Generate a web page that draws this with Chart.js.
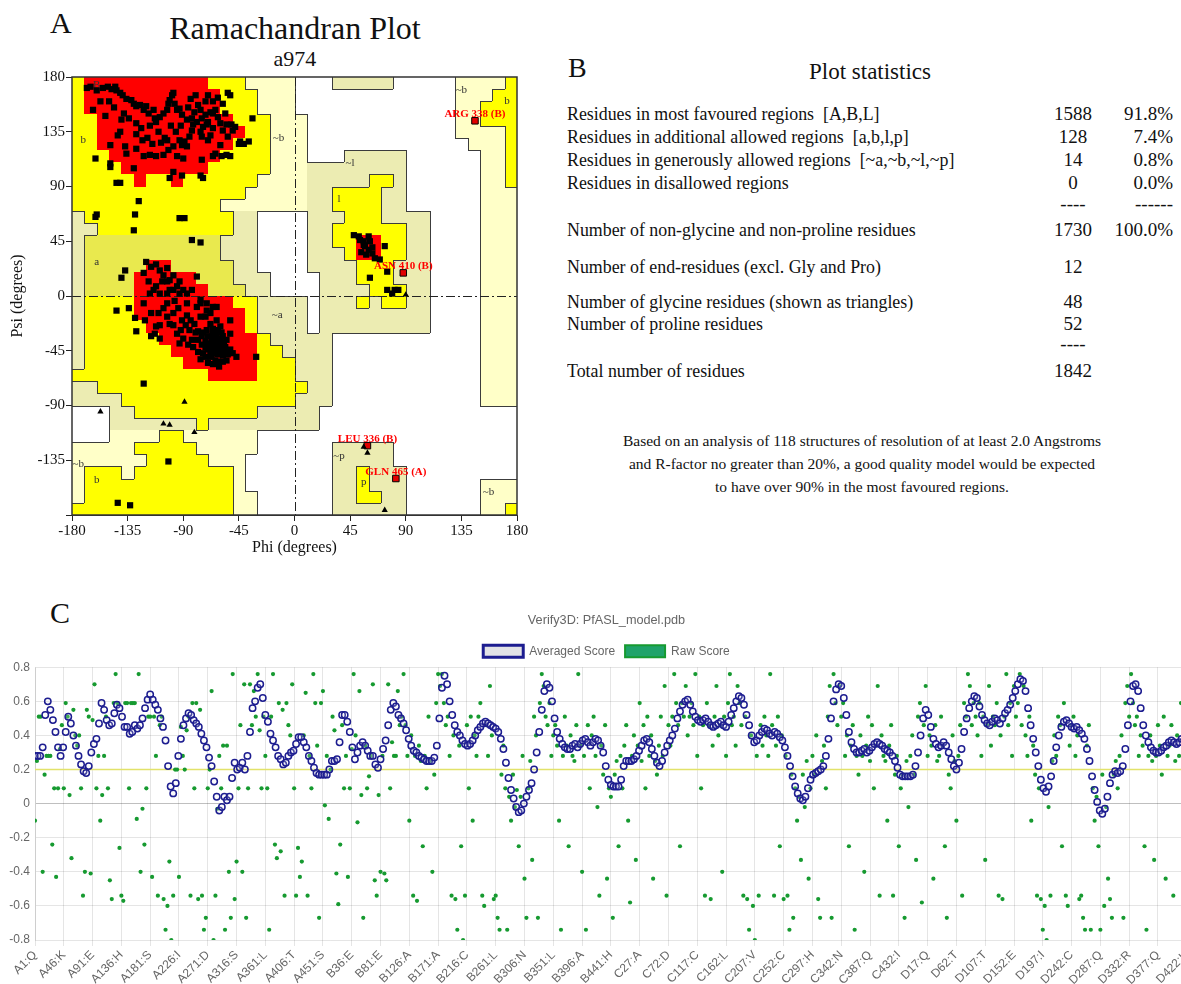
<!DOCTYPE html>
<html>
<head>
<meta charset="utf-8">
<title>Ramachandran plot, statistics and Verify3D</title>
<script src="https://cdn.jsdelivr.net/npm/chart.js@4.4.1/dist/chart.umd.min.js"></script>
<style>
  html, body { margin: 0; padding: 0; background: #fff; }
  body { width: 1181px; height: 984px; overflow: hidden; position: relative; }
  .t { position: absolute; font-family: 'Liberation Serif', 'Times New Roman', serif; color: #111; white-space: nowrap; }
  .row { position: absolute; left: 567px; font-family: 'Liberation Serif', serif; font-size: 19px; line-height: 20px; color: #111; white-space: nowrap; transform: scaleX(0.94); transform-origin: left center; }
  .num { position: absolute; left: 1033px; width: 80px; text-align: center; font-family: 'Liberation Serif', serif; font-size: 19px; line-height: 20px; color: #111; }
  .pct { position: absolute; left: 1073px; width: 100px; text-align: right; font-family: 'Liberation Serif', serif; font-size: 19px; line-height: 20px; color: #111; }
  canvas { position: absolute; }
</style>
</head>
<body>

<!-- panel letters and titles -->
<div class="t" style="left:50px;top:6px;font-size:30px;line-height:34px">A</div>
<div class="t" style="left:95px;width:400px;text-align:center;top:10px;font-size:32px;line-height:36px">Ramachandran Plot</div>
<div class="t" style="left:195px;width:200px;text-align:center;top:46px;font-size:22px;line-height:26px">a974</div>
<div class="t" style="left:568px;top:52px;font-size:28px;line-height:32px">B</div>
<div class="t" style="left:50px;top:596px;font-size:30px;line-height:34px">C</div>

<!-- panel B: plot statistics -->
<div class="t" style="left:745px;width:250px;text-align:center;top:58px;font-size:23px;line-height:28px">Plot statistics</div>

<div class="row" style="top:104px">Residues in most favoured regions&nbsp; [A,B,L]</div>
<div class="num" style="top:104px">1588</div><div class="pct" style="top:104px">91.8%</div>
<div class="row" style="top:127px">Residues in additional allowed regions&nbsp; [a,b,l,p]</div>
<div class="num" style="top:127px">128</div><div class="pct" style="top:127px">7.4%</div>
<div class="row" style="top:150px">Residues in generously allowed regions&nbsp; [~a,~b,~l,~p]</div>
<div class="num" style="top:150px">14</div><div class="pct" style="top:150px">0.8%</div>
<div class="row" style="top:173px">Residues in disallowed regions</div>
<div class="num" style="top:173px">0</div><div class="pct" style="top:173px">0.0%</div>
<div class="num" style="top:194px">----</div><div class="pct" style="top:194px">------</div>
<div class="row" style="top:220px">Number of non-glycine and non-proline residues</div>
<div class="num" style="top:220px">1730</div><div class="pct" style="top:220px">100.0%</div>
<div class="row" style="top:257px">Number of end-residues (excl. Gly and Pro)</div>
<div class="num" style="top:257px">12</div>
<div class="row" style="top:292px">Number of glycine residues (shown as triangles)</div>
<div class="num" style="top:292px">48</div>
<div class="row" style="top:314px">Number of proline residues</div>
<div class="num" style="top:314px">52</div>
<div class="num" style="top:334px">----</div>
<div class="row" style="top:361px">Total number of residues</div>
<div class="num" style="top:361px">1842</div>

<div class="t" style="left:562px;width:600px;text-align:center;top:429px;font-size:15.5px;line-height:23px">Based on an analysis of 118 structures of resolution of at least 2.0 Angstroms<br>and R-factor no greater than 20%, a good quality model would be expected<br>to have over 90% in the most favoured regions.</div>

<canvas id="rama" width="540" height="560" style="left:0;top:0"></canvas>
<canvas id="verify" width="1225" height="384" style="left:0;top:600px"></canvas>

<script>
// ================= Panel A data (phi, psi in degrees) =================
// 10-degree region map, top row = psi 170..180, left column = phi -180..-170
// R core, Y/y allowed, G/g generously allowed, W disallowed
const regionRows = [
  'YRRRRRRRR RRYYYgggg WWWGGGGGW WWWWggggY',
  'YRRRRRRRR RRRYYYggg WWWWWWWWW WWWWgggYY',
  'YRRRRRRRR RRRYYYggg WWWWWWWWW WWWWggYYY',
  'YYRRRRRRR RRRRYYYgg gWWWWWWWW WWWWggYYY',
  'YYRRRRRRR RRRRRYYgg gWWWWWWWW WWWWggggY',
  'YYRRRRRRR RRRRYYYgg gWWWWWWWW WWWWWgggY',
  'YYYRRRRRR RRRYYYYgg gWWWGGGGG WWWWWWggY',
  'YYYYRRRRR RRYYYYYgg gGGGGGGGG WWWWWWggY',
  'YYYYYRYYR YYYYYYggg gGGGGGYYG WWWWWWggY',
  'YYYYYYYYY YYYYYgggg gGGYYYYGG WWWWWWggg',
  'YYYYYYYYY YYYgggggg gGGYYYYGG WWWWWWggg',
  'GYYYYYYYY YYYYGGWWW WGGGYYYGG GGWWWWggg',
  'GGYYYYYYY YYYYGGWWW WGGYYYYYY GGWWWWggg',
  'Gyyyyyyyy yyyGGGWWW WGGYYRRYY GGWWWWggg',
  'Gyyyyyyyy yyyGGGWWW WGGGYRRYY GGWWWWggg',
  'GyyyyyRRy yyyyGGWWW WGGGGYYYG GGWWWWggg',
  'GyyyyRRRR RyyyGGGWW WWGGGYYYG GGWWWWggg',
  'GyyyyRRRR RRyyyGGWW WWGGGGYYY GGWWWWggg',
  'GYYYYRRRR RRRRYYGGG GWGGGYGYY GGWWWWggg',
  'GYYYYRRRR RRRRRYGGG GWGGGGGGG GGWWWWggg',
  'GYYYYYRRR RRRRRYGGG GWGGGGGGG GGWWWWggg',
  'GYYYYYYRR RRRRRRYGG GGGWWWWWW WWWWWWggg',
  'GYYYYYYYR RRRRRRYYG GGGWWWWWW WWWWWWggg',
  'GYYYYYYYY RRRRRRYYY GGGWWWWWW WWWWWWggg',
  'YYYYYYYYY YYRRRRYYY GGGWWWWWW WWWWWWggg',
  'GGYYYYYYY YYYYYYYYY YGGWWWWWW WWWWWWggg',
  'GGGGYYYYY YYYYYYYYY GGGWWWWWW WWWWWWggg',
  'WWWGGYYYY YYYYYYGGG GGWWWWWWW WWWWWWWWW',
  'WWWGGGGGG GYGGGGGGG GGWWWWWWW WWWWWWWWW',
  'WWWggggYY ggggggWWW WWWWWWWWW WWWWWWWWW',
  'gggggYYYY YgggggWWW WWWGGGGGW WWWWWWWWW',
  'ggggggYYY YYgggWWWW WWWGGGGGW WWWWWWWWW',
  'gYYYgYYYY YYYYgWWWW WWWGGYGGG WWWWWWWWW',
  'gYYYYYYYY YYYYgWWWW WWWGGYGGG WWWWWWggg',
  'gYYYYYYYY YYYYggWWW WWWGGYYGG WWWWWWggg',
  'YYYYYYYYY YYYYggWWW WWWGGGGGG WWWWWWggY'
];
const regionColors = { R: '#ff0000', Y: '#ffff00', y: '#e9e94e', G: '#ececb2', g: '#ffffc8', W: '#ffffff' };

const regionLabels = [
  ['B', -160, 173], ['b', -171, 128], ['~b', -13, 130], ['a', -160, 28], ['~a', -14, -16],
  ['~b', -175, -138], ['b', -160, -151], ['~l', 45, 109], ['l', 36, 80], ['~b', 135, 169],
  ['b', 172, 160], ['~p', 36, -132], ['p', 56, -153], ['~b', 157, -161]
];

// non-glycine, non-proline residues (squares)
const residuePhiPsi = [
  [-168,171],[-165,172],[-160,169],[-155,171],[-151,172],[-148,170],[-145,172],[-144,169],[-141,167],[-139,165],
  [-136,162],[-132,161],[-130,158],[-128,156],[-125,157],[-122,153],[-120,156],[-118,150],[-114,153],[-113,146],
  [-112,143],[-109,147],[-106,150],[-103,153],[-102,158],[-101,161],[-99,165],[-98,167],[-97,158],[-95,153],
  [-93,154],[-91,149],[-87,145],[-83,146],[-81,151],[-78,157],[-76,153],[-75,146],[-72,149],[-70,143],
  [-68,151],[-66,150],[-64,153],[-62,147],[-60,142],[-58,136],[-55,141],[-51,141],[-50,136],[-48,139],
  [-45,125],[-44,127],[-41,125],[-37,127],[-34,146],[-54,167],[-52,165],[-163,153],[-143,132],[-141,135],
  [-149,124],[-137,123],[-128,121],[-136,117],[-122,115],[-117,116],[-112,115],[-106,116],[-102,120],[-98,123],
  [-95,115],[-93,128],[-91,124],[-89,127],[-87,123],[-85,131],[-83,136],[-82,141],[-79,143],[-76,135],
  [-75,131],[-74,139],[-71,141],[-70,128],[-68,132],[-66,138],[-64,117],[-60,124],[-59,115],[-55,116],
  [-52,115],[-54,131],[-66,115],[-90,113],[-75,112],[-98,102],[-101,97],[-91,99],[-76,99],[-74,97],
  [-130,105],[-149,109],[-149,106],[-161,113],[-144,93],[-141,93],[-126,78],[-129,67],[-130,54],[-93,64],
  [-89,64],[-83,46],[-76,44],[-161,65],[-160,67],
  [-150,160],[-146,155],[-138,150],[-134,146],[-128,142],[-124,138],[-117,140],[-110,135],[-105,130],[-100,140],
  [-96,135],[-92,140],[-86,155],[-84,162],[-80,165],[-72,160],[-70,165],[-66,160],[-62,163],[-58,158],
  [-56,150],[-119,130],[-115,125],[-108,126],[-103,128],[-128,133],[-123,128],[-140,145],[-157,160],[-153,148],
  [-137,21],[-140,15],[-144,-12],[-134,-10],[-120,28],[-116,24],[-112,26],[-109,21],[-106,17],[-103,23],
  [-101,13],[-98,17],[-95,8],[-93,12],[-90,5],[-87,2],[-112,8],[-109,2],[-103,2],[-101,5],
  [-117,2],[-114,5],[-79,16],[-76,-3],[-71,-6],[-66,-9],[-103,12],[-98,5],[-93,2],[-83,5],
  [-122,19],[-118,12],[-107,12],[-129,-18],[-128,-29],[-122,-6],[-116,-14],[-113,-31],[-112,-25],[-109,-35],
  [-103,-17],[-101,-23],[-98,-14],[-95,-31],[-93,-39],[-91,-20],[-87,-16],[-85,-28],[-82,-42],[-81,-23],
  [-79,-9],[-76,-17],[-75,-33],[-74,-47],[-71,-12],[-71,-28],[-70,-39],[-68,-23],[-66,-31],[-66,-44],
  [-64,-53],[-63,-36],[-60,-25],[-60,-47],[-59,-42],[-58,-33],[-55,-53],[-52,-44],[-50,-47],[-47,-50],
  [-103,-6],[-87,-6],[-76,-6],[-63,-9],[-52,-20],[-31,-50],[-122,-72],[-109,-24],[-78,-46],[-70,-55],
  [-62,-54],[-72,-17],[-68,-14],[-63,-20],[-83,-36],[-78,-29],[-55,-36],[-52,-31],[-60,-39],[-67,-49],
  [-58,-49],[-90,-35],[-98,-24],[-116,-33],[-121,-20],[-64,-38],[-62,-42],[-67,-36],[-61,-45],[-69,-42],
  [-65,-47],[-63,-33],[-57,-40],[-70,-33],[-66,-27],[-72,-37],[-59,-30],[-56,-45],[-62,-28],[-75,-40],
  [-68,-50],[-66,-40],[-64,-42],[-62,-36],[-60,-44],[-58,-38],[-68,-46],[-70,-44],[-66,-34],[-62,-48],
  [-72,-42],[-64,-30],[-60,-35],[-56,-42],[-54,-48],[-74,-30],[-78,-36],[-80,-30],[-84,-20],[-88,-24],
  [-94,-10],[-97,-4],[-106,-10],[-110,-14],[-76,-52],[-72,-50],[-66,-56],[-61,-58],[-58,-54],[-86,-40],
  [-92,-28],[-143,-170],[-133,-172],[-102,-136],
  [48,50],[52,49],[56,45],[60,49],[61,45],[57,41],[54,36],[58,34],[63,35],[65,31],
  [69,30],[73,41],[61,15],[75,5],[79,2],[81,5],[84,5],[56,42],[60,38],[63,40],[53,46],[75,20]
];
// glycine residues (triangles)
const glycinePhiPsi = [[-157,-95],[-89,-87],[-106,-105],[-101,-106],[-81,-112],[56,-124],[59,-129],[73,-176],[90,1]];
// residues outside the favoured regions, labelled in red
const flaggedPhi = [146, 88, 59, 82];
const flaggedPsi = [144, 19, -123, -150];
const flaggedNames = ['ARG 338 (B)', 'ASN 410 (B)', 'LEU 336 (B)', 'GLN 465 (A)'];

// ================= Panel C data (Verify3D) =================
const tickLabels = ['A1:Q','A46:K','A91:E','A136:H','A181:S','A226:I','A271:D','A316:S','A361:L','A406:T',
  'A451:S','B36:E','B81:E','B126:A','B171:A','B216:C','B261:L','B306:N','B351:L','B396:A',
  'B441:H','C27:A','C72:D','C117:C','C162:L','C207:V','C252:C','C297:H','C342:N','C387:Q',
  'C432:I','D17:Q','D62:T','D107:T','D152:E','D197:I','D242:C','D287:Q','D332:R','D377:Q','D422:K'];
const residueCount = 1842;
const labelStep = 45;
const avgStep = 4;   // averaged score read every 4th residue
const rawStep = 3;   // raw score read every 3rd residue
const passScore = 0.2;

const averagedScore = [
  0.28,0.28,0.28,0.33,0.52,0.60,0.55,0.49,0.42,0.33,
  0.28,0.33,0.42,0.51,0.47,0.40,0.34,0.28,0.23,0.19,
  0.18,0.22,0.30,0.35,0.38,0.47,0.59,0.55,0.49,0.46,
  0.47,0.53,0.58,0.56,0.51,0.45,0.45,0.41,0.42,0.46,
  0.44,0.46,0.50,0.56,0.61,0.64,0.61,0.58,0.55,0.50,
  0.45,0.37,0.22,0.10,0.06,0.12,0.28,0.38,0.46,0.50,
  0.53,0.52,0.49,0.47,0.45,0.41,0.37,0.33,0.27,0.22,
  0.13,0.04,-0.04,-0.02,0.04,0.02,0.04,0.15,0.24,0.20,
  0.21,0.24,0.20,0.28,0.42,0.56,0.60,0.68,0.70,0.62,
  0.52,0.48,0.41,0.37,0.33,0.28,0.26,0.23,0.24,0.28,
  0.30,0.31,0.35,0.39,0.39,0.36,0.33,0.28,0.25,0.21,
  0.18,0.17,0.17,0.17,0.17,0.20,0.25,0.25,0.26,0.36,
  0.52,0.52,0.48,0.42,0.33,0.26,0.30,0.34,0.36,0.34,
  0.31,0.28,0.28,0.23,0.21,0.26,0.32,0.37,0.46,0.55,
  0.59,0.57,0.52,0.50,0.47,0.43,0.38,0.34,0.31,0.30,
  0.28,0.27,0.26,0.25,0.25,0.25,0.27,0.34,0.50,0.68,
  0.75,0.70,0.60,0.52,0.46,0.42,0.40,0.37,0.35,0.34,
  0.35,0.37,0.40,0.43,0.45,0.47,0.48,0.47,0.46,0.45,
  0.44,0.42,0.38,0.32,0.24,0.15,0.08,0.03,-0.02,-0.05,
  -0.04,0.00,0.04,0.08,0.12,0.20,0.30,0.42,0.55,0.66,
  0.70,0.68,0.60,0.50,0.42,0.38,0.35,0.33,0.32,0.32,
  0.34,0.35,0.33,0.35,0.37,0.38,0.36,0.34,0.36,0.38,
  0.37,0.34,0.30,0.22,0.14,0.11,0.10,0.10,0.10,0.14,
  0.22,0.25,0.25,0.25,0.26,0.28,0.31,0.34,0.37,0.38,
  0.36,0.32,0.28,0.24,0.22,0.25,0.30,0.34,0.37,0.40,
  0.44,0.50,0.54,0.58,0.60,0.61,0.58,0.54,0.51,0.49,
  0.48,0.49,0.50,0.48,0.46,0.45,0.46,0.47,0.48,0.46,
  0.45,0.48,0.52,0.56,0.60,0.63,0.62,0.58,0.52,0.46,
  0.40,0.36,0.37,0.40,0.42,0.44,0.43,0.41,0.40,0.42,
  0.41,0.39,0.37,0.33,0.28,0.22,0.16,0.10,0.06,0.03,
  0.02,0.04,0.09,0.14,0.17,0.18,0.19,0.20,0.22,0.28,
  0.38,0.50,0.60,0.67,0.70,0.69,0.62,0.52,0.42,0.36,
  0.32,0.30,0.30,0.31,0.32,0.30,0.31,0.33,0.35,0.36,
  0.35,0.34,0.32,0.31,0.30,0.28,0.25,0.21,0.17,0.16,
  0.16,0.16,0.16,0.17,0.22,0.30,0.40,0.50,0.55,0.52,
  0.45,0.38,0.35,0.33,0.34,0.36,0.34,0.30,0.26,0.22,
  0.20,0.24,0.32,0.42,0.50,0.56,0.60,0.63,0.62,0.57,
  0.52,0.49,0.47,0.46,0.48,0.50,0.49,0.47,0.50,0.53,
  0.55,0.58,0.62,0.66,0.70,0.73,0.72,0.66,0.56,0.46,
  0.38,0.30,0.22,0.14,0.09,0.07,0.10,0.16,0.25,0.33,
  0.40,0.45,0.48,0.49,0.47,0.45,0.44,0.45,0.43,0.41,
  0.38,0.32,0.25,0.16,0.08,0.01,-0.04,-0.06,-0.03,0.04,
  0.12,0.17,0.19,0.18,0.19,0.22,0.32,0.46,0.60,0.69,
  0.70,0.66,0.56,0.46,0.40,0.36,0.33,0.31,0.30,0.30,
  0.31,0.33,0.34,0.36,0.37,0.36,0.35,0.36,0.38,0.37,
  0.35,0.33,0.34,0.36,0.35,0.33,0.32,0.34,0.35,0.33,
  0.32
];

const rawScore = [
  -0.10,0.25,0.51,0.51,-0.40,0.17,0.28,0.28,0.28,-0.24,
  0.09,-0.43,0.09,0.32,0.46,0.09,0.59,0.51,0.05,-0.32,
  0.55,0.40,0.34,0.40,0.09,-0.54,-0.40,0.55,0.51,-0.41,
  0.49,0.70,0.09,0.28,-0.10,0.05,0.28,0.51,0.09,-0.45,
  -0.56,0.59,0.76,0.59,-0.26,-0.54,-0.57,0.59,0.59,0.09,
  0.59,0.59,0.59,-0.09,0.76,-0.40,-0.03,-0.24,0.09,0.51,
  0.51,-0.43,0.51,0.28,-0.54,0.46,0.51,-0.56,-0.74,-0.60,
  -0.34,-0.80,-0.54,0.20,0.20,-0.43,0.45,0.28,0.20,0.43,
  0.51,-0.54,0.59,0.09,0.59,-0.56,0.55,-0.54,-0.74,-0.67,
  0.09,0.20,0.66,-0.80,-0.54,-0.03,0.28,0.09,0.34,-0.74,
  0.34,-0.40,-0.67,0.76,-0.56,-0.34,0.09,0.46,-0.40,0.70,
  -0.67,0.09,0.70,0.46,0.66,0.51,0.76,0.43,0.09,0.51,
  0.28,0.09,-0.74,0.51,0.76,-0.24,-0.32,0.59,-0.28,0.55,
  -0.54,0.59,0.46,0.40,0.70,0.09,-0.54,-0.26,-0.43,-0.34,
  0.40,0.65,-0.54,0.28,0.09,0.76,0.59,0.34,-0.67,0.59,
  0.66,-0.01,0.28,-0.09,0.20,0.51,0.43,-0.41,-0.59,-0.24,
  0.46,0.09,0.28,-0.43,0.09,0.32,0.76,0.40,-0.11,0.66,
  0.05,-0.67,0.34,0.09,0.16,0.28,0.70,-0.45,-0.54,0.05,
  -0.40,0.28,-0.41,-0.45,0.70,0.09,0.36,0.28,0.28,0.66,
  0.46,
  0.51,0.76,0.46,0.28,-0.10,0.40,-0.54,0.28,-0.57,0.34,
  0.25,-0.25,0.28,0.09,0.51,0.25,-0.40,0.17,0.59,0.76,
  0.69,0.76,0.59,0.46,0.51,0.28,-0.54,0.40,-0.56,-0.74,
  0.34,-0.25,-0.80,-0.54,0.46,0.09,0.51,-0.10,0.40,0.28,
  0.51,0.59,-0.54,-0.60,0.46,0.28,0.69,0.40,-0.56,-0.54,
  -0.67,-0.74,0.17,0.34,0.09,-0.74,0.04,-0.10,0.17,-0.02,
  0.08,-0.25,0.04,0.28,-0.44,-0.67,0.09,0.25,-0.33,0.51,
  0.40,-0.67,0.59,0.76,0.69,0.51,0.46,0.59,0.28,0.40,
  0.46,0.34,-0.10,-0.74,0.28,0.51,0.34,-0.25,0.40,0.28,
  0.25,0.46,0.76,0.34,-0.40,0.28,-0.74,0.46,0.09,0.40,
  0.51,0.28,-0.02,-0.54,0.34,0.17,0.46,-0.44,0.09,0.04,
  -0.67,0.17,0.25,-0.25,0.28,0.09,0.34,0.46,-0.10,-0.58,
  0.28,0.40,-0.33,0.34,0.59,0.25,0.46,0.09,0.51,0.28,
  0.40,-0.44,0.25,0.17,0.34,0.51,0.28,0.69,-0.54,0.46,
  0.34,0.51,0.76,0.59,0.46,-0.25,0.59,0.51,0.69,0.40,
  0.51,0.59,0.46,0.76,0.28,0.51,0.09,0.46,-0.54,0.59,
  0.46,-0.56,0.34,0.51,0.69,0.40,0.46,-0.40,0.51,0.28,
  0.59,0.76,0.46,0.51,0.34,0.69,0.59,0.46,-0.54,0.51,
  -0.56,-0.74,0.40,-0.60,-0.80,0.28,-0.54,0.46,0.34,0.51,
  0.40,0.28,0.76,0.46,-0.54,0.34,0.51,-0.25,0.40,-0.56,
  0.28,-0.54,-0.74,0.17,-0.67,0.09,-0.10,0.04,-0.33,0.17,
  -0.02,0.25,-0.44,0.09,0.28,0.17,0.40,-0.56,-0.67,0.25,
  0.34,0.09,0.51,0.69,-0.67,0.76,0.59,0.46,0.69,0.51,
  0.59,0.28,0.40,-0.25,0.34,0.46,-0.74,0.28,0.17,0.40,
  0.28,-0.40,0.34,0.51,0.25,0.46,0.09,0.34,0.69,-0.54,
  0.40,0.28,0.25,-0.10,0.34,0.46,-0.54,0.17,0.28,-0.25,
  0.09,0.17,-0.67,0.25,-0.02,0.28,0.40,0.17,-0.33,0.51,
  0.59,-0.58,0.46,0.69,0.28,0.40,0.34,-0.44,0.46,0.25,
  0.28,0.51,0.34,-0.25,-0.67,0.17,0.09,0.40,0.25,-0.10,
  0.28,0.46,-0.54,0.59,0.51,0.76,0.69,0.46,0.59,0.51,
  0.40,0.59,0.28,0.51,-0.33,0.46,0.69,0.34,0.51,0.46,
  0.59,-0.54,0.40,-0.56,0.51,0.76,0.46,0.59,0.28,0.69,
  0.51,0.59,0.76,0.46,0.69,0.40,0.28,0.51,-0.10,0.34,
  0.17,-0.54,0.09,-0.56,-0.74,-0.60,-0.80,-0.02,-0.54,0.25,
  0.40,0.28,0.51,0.46,-0.25,0.59,-0.54,-0.60,0.34,0.46,
  0.51,0.28,0.40,-0.56,-0.54,-0.67,-0.74,0.34,0.46,-0.74,
  0.09,-0.10,0.04,-0.25,-0.74,0.17,-0.60,-0.02,-0.44,-0.56,
  -0.67,0.17,0.25,0.09,0.28,0.40,-0.67,0.59,0.69,0.51,
  0.76,0.59,0.46,0.51,0.28,0.40,0.34,-0.25,-0.74,0.28,
  0.40,0.25,-0.33,0.28,0.46,0.34,0.17,0.51,-0.44,0.28,
  0.34,0.46,-0.54,0.25,0.40,0.28,0.59,0.34,-0.10,0.46,
  0.28,0.40,0.34,0.51,0.25,0.46,0.34,0.28,0.40,0.17,0.46,0.34,0.28
];

// ================= Panel A chart =================
const serif = "'Liberation Serif', 'Times New Roman', serif";
Chart.defaults.font.family = "'Liberation Sans', 'Helvetica Neue', Arial, sans-serif";

const ramaRegions = {
  id: 'ramaRegions',
  beforeDatasetsDraw(chart) {
    const { ctx, chartArea: area, scales: { x, y } } = chart;
    const rows = regionRows.map(r => r.replace(/ /g, ''));
    const px = c => Math.round(x.getPixelForValue(-180 + 10 * c));
    const py = r => Math.round(y.getPixelForValue(180 - 10 * r));
    ctx.save();
    rows.forEach((row, r) => {
      for (let c = 0; c < 36; c++) {
        ctx.fillStyle = regionColors[row[c]] || '#fff';
        ctx.fillRect(px(c), py(r), px(c + 1) - px(c), py(r + 1) - py(r));
      }
    });
    // region borders (not drawn around the core regions)
    const cls = ch => ({ R: 'R', Y: 'Y', y: 'Y', G: 'G', g: 'G' }[ch] || 'W');
    const edge = (a, b) => { const p = cls(a), q = cls(b); return p !== q && p !== 'R' && q !== 'R'; };
    ctx.strokeStyle = '#3c3c3c';
    ctx.lineWidth = 1;
    ctx.beginPath();
    for (let r = 0; r < 36; r++) {
      for (let c = 0; c < 36; c++) {
        if (c < 35 && edge(rows[r][c], rows[r][c + 1])) {
          const xx = px(c + 1) + 0.5;
          ctx.moveTo(xx, py(r)); ctx.lineTo(xx, py(r + 1));
        }
        if (r < 35 && edge(rows[r][c], rows[r + 1][c])) {
          const yy = py(r + 1) + 0.5;
          ctx.moveTo(px(c), yy); ctx.lineTo(px(c + 1), yy);
        }
      }
    }
    ctx.stroke();
    // dash-dot axes at phi = 0 and psi = 0
    ctx.setLineDash([9, 3, 2, 3]);
    ctx.strokeStyle = '#222';
    ctx.beginPath();
    const x0 = Math.round(x.getPixelForValue(0)) + 0.5;
    const y0 = Math.round(y.getPixelForValue(0)) + 0.5;
    ctx.moveTo(x0, area.top); ctx.lineTo(x0, area.bottom);
    ctx.moveTo(area.left, y0); ctx.lineTo(area.right, y0);
    ctx.stroke();
    ctx.setLineDash([]);
    // region names
    ctx.fillStyle = '#333';
    ctx.font = '11px ' + serif;
    ctx.textAlign = 'center';
    ctx.textBaseline = 'middle';
    regionLabels.forEach(([t, phi, psi]) => ctx.fillText(t, x.getPixelForValue(phi), y.getPixelForValue(psi)));
    // frame
    ctx.strokeStyle = '#333';
    ctx.lineWidth = 1.5;
    ctx.strokeRect(area.left, area.top, area.right - area.left, area.bottom - area.top);
    ctx.restore();
  },
  afterDatasetsDraw(chart) {
    const { ctx, scales: { x, y } } = chart;
    ctx.save();
    ctx.fillStyle = '#ff0000';
    ctx.font = 'bold 11px ' + serif;
    ctx.textAlign = 'center';
    ctx.textBaseline = 'alphabetic';
    flaggedNames.forEach((name, i) => {
      ctx.fillText(name, x.getPixelForValue(flaggedPhi[i]), y.getPixelForValue(flaggedPsi[i]) - 4);
    });
    ctx.restore();
  }
};

const angleTicks = {
  stepSize: 45, color: '#111', padding: 1, autoSkip: false, maxRotation: 0,
  font: { family: serif, size: 15 }
};

new Chart(document.getElementById('rama'), {
  type: 'scatter',
  data: {
    datasets: [
      { label: 'Residues', data: residuePhiPsi.map(([phi, psi]) => ({ x: phi, y: psi })),
        pointStyle: 'rect', pointRadius: 4.4, backgroundColor: '#000', borderWidth: 0 },
      { label: 'Glycine', data: glycinePhiPsi.map(([phi, psi]) => ({ x: phi, y: psi })),
        pointStyle: 'triangle', pointRadius: 3.6, backgroundColor: '#000', borderColor: '#000', borderWidth: 0 },
      { label: 'Flagged', data: flaggedPhi.map((phi, i) => ({ x: phi, y: flaggedPsi[i] })),
        pointStyle: 'rect', pointRadius: 4.6, backgroundColor: '#e00000', borderColor: '#000', borderWidth: 1 }
    ]
  },
  options: {
    responsive: false,
    animation: false,
    events: [],
    layout: { padding: { left: 0, right: 23, top: 77, bottom: 0 } },
    plugins: { legend: { display: false }, tooltip: { enabled: false } },
    scales: {
      x: {
        type: 'linear', min: -180, max: 180,
        ticks: angleTicks,
        grid: { drawOnChartArea: false, color: '#222', tickLength: 6 },
        border: { color: '#333', width: 1 },
        title: { display: true, text: 'Phi (degrees)', color: '#111', font: { family: serif, size: 16 }, padding: { top: 0, bottom: 3 } },
        afterFit: s => { s.height = 45; }
      },
      y: {
        type: 'linear', min: -180, max: 180,
        ticks: Object.assign({}, angleTicks, { callback: v => (v === -180 ? '' : v) }),
        grid: { drawOnChartArea: false, color: '#222', tickLength: 6 },
        border: { color: '#333', width: 1 },
        title: { display: true, text: 'Psi (degrees)', color: '#111', font: { family: serif, size: 16 }, padding: { top: 8, bottom: 0 } },
        afterFit: s => { s.width = 72; }
      }
    }
  },
  plugins: [ramaRegions]
});

// ================= Panel C chart =================
new Chart(document.getElementById('verify'), {
  type: 'scatter',
  data: {
    datasets: [
      { label: 'Averaged Score', data: averagedScore.map((v, j) => ({ x: j * avgStep, y: v })),
        pointRadius: 3.2, pointBorderWidth: 1.5, borderColor: '#1d1d90', backgroundColor: 'rgba(235,235,240,0.2)' },
      { label: 'Raw Score', data: rawScore.map((v, j) => ({ x: j * rawStep, y: v })),
        pointRadius: 2.1, pointBorderWidth: 0, borderColor: '#169a30', backgroundColor: '#169a30' },
      { label: 'pass', data: [{ x: 0, y: passScore }, { x: residueCount - 1, y: passScore }],
        showLine: true, pointRadius: 0, borderColor: '#e2e26a', borderWidth: 1.5 }
    ]
  },
  options: {
    responsive: false,
    animation: false,
    events: [],
    layout: { padding: { left: 0, right: 12, top: 0, bottom: 0 } },
    plugins: {
      tooltip: { enabled: false },
      title: { display: true, text: 'Verify3D: PfASL_model.pdb', color: '#666',
               font: { size: 12.7, weight: 'normal' }, padding: { top: 12.5, bottom: 7.5 } },
      legend: {
        labels: {
          boxWidth: 40, boxHeight: 12, color: '#666', font: { size: 12 },
          filter: item => item.text !== 'pass',
          generateLabels: chart => Chart.defaults.plugins.legend.labels.generateLabels(chart).map(item => {
            if (item.text === 'Averaged Score') { item.fillStyle = '#e2e2e6'; item.strokeStyle = '#1d1d90'; item.lineWidth = 3; }
            if (item.text === 'Raw Score') { item.fillStyle = '#1fa36a'; item.strokeStyle = '#169a30'; item.lineWidth = 2; }
            return item;
          })
        }
      }
    },
    scales: {
      x: {
        type: 'linear', min: 0, max: residueCount - 1,
        ticks: { stepSize: labelStep, includeBounds: false, autoSkip: false, minRotation: 45, maxRotation: 45,
                 color: '#666', font: { size: 12 }, padding: 2,
                 callback: v => tickLabels[Math.round(v / labelStep)] || '' },
        grid: { color: 'rgba(0,0,0,0.1)', tickLength: 6 },
        border: { display: false },
        afterFit: s => { s.height = 44; }
      },
      y: {
        type: 'linear', min: -0.8, max: 0.8,
        ticks: { stepSize: 0.2, color: '#666', font: { size: 12 }, padding: 5 },
        grid: { drawTicks: false, color: c => (c.tick && Math.abs(c.tick.value) < 1e-9 ? 'rgba(0,0,0,0.25)' : 'rgba(0,0,0,0.1)') },
        border: { color: 'rgba(0,0,0,0.1)' },
        afterFit: s => { s.width = 35; }
      }
    }
  }
});
</script>
</body>
</html>
